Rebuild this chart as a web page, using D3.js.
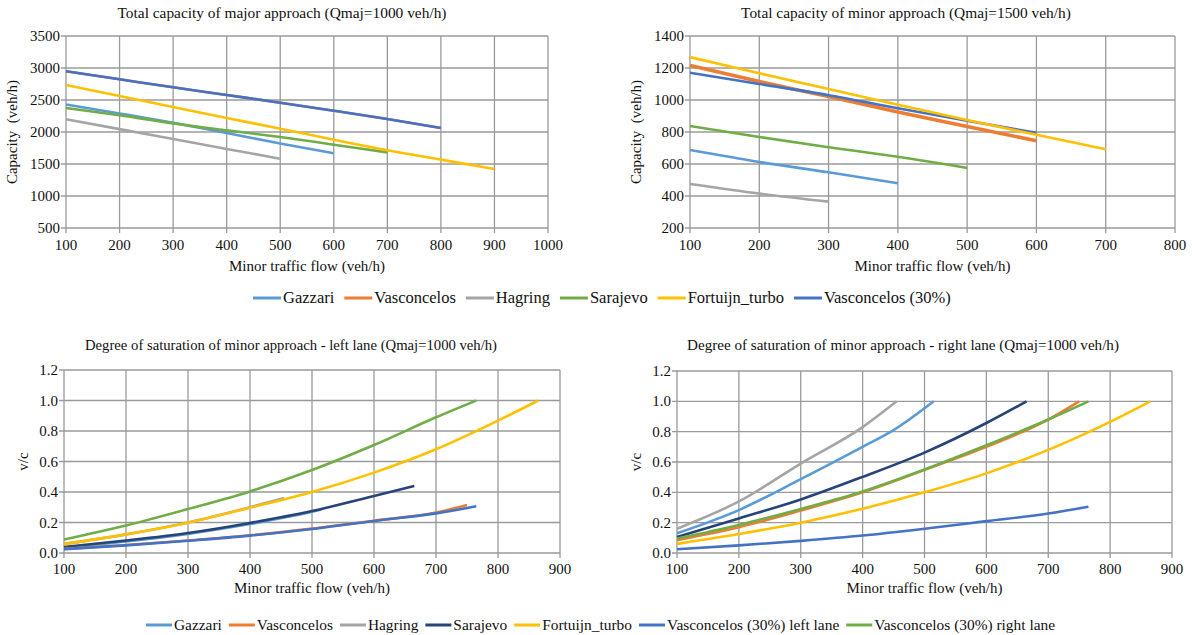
<!DOCTYPE html>
<html>
<head>
<meta charset="utf-8">
<script src="https://cdn.jsdelivr.net/npm/d3@7"></script>
<style>
  body { margin: 0; background: #fff; }
  svg text { font-family: "Liberation Serif", "DejaVu Serif", serif; fill: #111; }
</style>
</head>
<body>
<svg id="chart" width="1192" height="635"></svg>
<script>
// ---- data ----
var xTop = [100, 200, 300, 400, 500, 600, 700, 800, 900];

// Total capacity of major approach (Qmaj=1000 veh/h)
var majGazzari      = [2430, 2290, 2145, 1985, 1820, 1668];
var majVasconcelos  = [2948, 2823, 2698, 2578, 2458, 2333, 2203, 2063];
var majHagring      = [2198, 2045, 1890, 1735, 1583];
var majSarajevo     = [2375, 2262, 2135, 2026, 1922, 1802, 1682];
var majFortuijn     = [2734, 2562, 2390, 2219, 2052, 1880, 1714, 1568, 1422];
var majVasc30       = [2948, 2823, 2698, 2578, 2458, 2333, 2203, 2063];

// Total capacity of minor approach (Qmaj=1500 veh/h)
var minGazzari      = [688, 613, 548, 480];
var minVasconcelos  = [1216, 1115, 1022, 925, 835, 745];
var minHagring      = [475, 415, 365];
var minSarajevo     = [838, 769, 705, 645, 575];
var minFortuijn     = [1268, 1167, 1069, 970, 875, 783, 692];
var minVasc30       = [1170, 1100, 1030, 948, 870, 795];

// Degree of saturation, left lane
var xLGazzari = [100, 200, 300, 400, 500, 515];
var yLGazzari = [0.035, 0.075, 0.125, 0.19, 0.27, 0.285];
var xLVasc    = [100, 200, 300, 400, 500, 600, 700, 750];
var yLVasc    = [0.027, 0.052, 0.082, 0.116, 0.16, 0.212, 0.265, 0.315];
var xLHagring = [100, 200, 300, 400, 455];
var yLHagring = [0.06, 0.122, 0.2, 0.3, 0.36];
var xLSaraj   = [100, 200, 300, 400, 500, 600, 665];
var yLSaraj   = [0.04, 0.082, 0.131, 0.197, 0.275, 0.374, 0.44];
var xLFort    = [100, 200, 300, 400, 500, 600, 700, 800, 865];
var yLFort    = [0.057, 0.122, 0.199, 0.297, 0.40, 0.527, 0.68, 0.868, 1.0];
var xLV30L    = [100, 200, 300, 400, 500, 600, 700, 765];
var yLV30L    = [0.025, 0.05, 0.08, 0.114, 0.157, 0.21, 0.26, 0.306];
var xLV30R    = [100, 200, 300, 400, 500, 600, 700, 765];
var yLV30R    = [0.088, 0.18, 0.288, 0.404, 0.544, 0.708, 0.89, 1.0];

// Degree of saturation, right lane
var xRGazzari = [100, 200, 300, 400, 450, 515];
var yRGazzari = [0.13, 0.283, 0.487, 0.70, 0.81, 1.0];
var xRVasc    = [100, 200, 300, 400, 500, 600, 700, 750];
var yRVasc    = [0.085, 0.17, 0.28, 0.40, 0.548, 0.70, 0.88, 1.0];
var xRHagring = [100, 200, 300, 400, 455];
var yRHagring = [0.16, 0.34, 0.59, 0.83, 1.0];
var xRSaraj   = [100, 200, 300, 400, 500, 600, 665];
var yRSaraj   = [0.105, 0.228, 0.353, 0.502, 0.662, 0.857, 1.0];
var xRFort    = [100, 200, 300, 400, 500, 600, 700, 800, 865];
var yRFort    = [0.06, 0.125, 0.2, 0.292, 0.40, 0.525, 0.68, 0.865, 1.0];
var xRV30L    = [100, 200, 300, 400, 500, 600, 700, 765];
var yRV30L    = [0.025, 0.05, 0.08, 0.115, 0.16, 0.21, 0.26, 0.305];
var xRV30R    = [100, 200, 300, 400, 500, 600, 700, 765];
var yRV30R    = [0.095, 0.185, 0.29, 0.405, 0.55, 0.71, 0.88, 1.0];

var topNames = ["Gazzari", "Vasconcelos", "Hagring", "Sarajevo", "Fortuijn_turbo", "Vasconcelos (30%)"];
var topColours = ["#5b9bd5", "#ed7d31", "#a5a5a5", "#70ad47", "#ffc000", "#4472c4"];
var botNames = ["Gazzari", "Vasconcelos", "Hagring", "Sarajevo", "Fortuijn_turbo", "Vasconcelos (30%) left lane", "Vasconcelos (30%) right lane"];
var botColours = ["#5b9bd5", "#ed7d31", "#a5a5a5", "#264478", "#ffc000", "#4472c4", "#70ad47"];

var FONT = "'Liberation Serif', 'DejaVu Serif', serif";

function zipTop(vals) {
	return vals.map(function(v, i) { return [xTop[i], v]; });
}
function zip(xs, ys) {
	return xs.map(function(x, i) { return [x, ys[i]]; });
}

var svg = d3.select("#chart").attr("font-family", FONT);

function drawPanel(p) {
	var x = d3.scaleLinear().domain(p.xDomain).range([p.left, p.right]);
	var y = d3.scaleLinear().domain(p.yDomain).range([p.bottom, p.top]);
	var g = svg.append("g");

	var xTicks = d3.range(p.xDomain[0], p.xDomain[1] + 1, p.xStep);
	var yTicks = d3.range(0, Math.round((p.yDomain[1] - p.yDomain[0]) / p.yStep) + 1)
		.map(function(i) { return p.yDomain[0] + i * p.yStep; });

	g.append("g").selectAll("line.vg")
		.data(xTicks)
	  .enter().append("line")
		.attr("x1", function(d) { return x(d); })
		.attr("x2", function(d) { return x(d); })
		.attr("y1", p.top).attr("y2", p.bottom + 5)
		.attr("stroke", "#9a9a9a").attr("stroke-width", 1.3);

	g.append("g").selectAll("line.hg")
		.data(yTicks)
	  .enter().append("line")
		.attr("x1", p.left - 5).attr("x2", p.right)
		.attr("y1", function(d) { return y(d); })
		.attr("y2", function(d) { return y(d); })
		.attr("stroke", "#9a9a9a").attr("stroke-width", 1.3);

	g.append("g").selectAll("text.xt")
		.data(xTicks)
	  .enter().append("text")
		.attr("x", function(d) { return x(d); })
		.attr("y", p.bottom + p.xTickDy)
		.attr("text-anchor", "middle")
		.style("font-family", FONT)
		.style("font-size", "15px")
		.text(function(d) { return d; });

	g.append("g").selectAll("text.yt")
		.data(yTicks)
	  .enter().append("text")
		.attr("x", p.left - 6)
		.attr("y", function(d) { return y(d) + 5; })
		.attr("text-anchor", "end")
		.style("font-family", FONT)
		.style("font-size", "15px")
		.text(function(d) { return p.yFormat(d); });

	var line = d3.line()
		.x(function(d) { return x(d[0]); })
		.y(function(d) { return y(d[1]); })
		.curve(d3.curveMonotoneX);

	g.append("g").selectAll("path.series")
		.data(p.series)
	  .enter().append("path")
		.attr("d", function(d) { return line(d.values); })
		.attr("fill", "none")
		.attr("stroke", function(d) { return d.colour; })
		.attr("stroke-width", function(d) { return d.width || 2.6; });

	g.append("text")
		.attr("x", p.titleX).attr("y", p.titleY)
		.attr("text-anchor", "middle")
		.style("font-family", FONT)
		.style("font-size", p.titleSize + "px")
		.text(p.title);

	g.append("text")
		.attr("x", (p.left + p.right) / 2).attr("y", p.bottom + p.xLabelDy)
		.attr("text-anchor", "middle")
		.style("font-family", FONT)
		.style("font-size", "15px")
		.text("Minor traffic flow (veh/h)");

	g.append("text")
		.attr("transform", "translate(" + p.yLabelX + "," + ((p.top + p.bottom) / 2) + ") rotate(-90)")
		.attr("text-anchor", "middle")
		.style("font-family", FONT)
		.style("font-size", "15px")
		.style("white-space", "pre")
		.text(p.yLabel);
}

function drawLegend(names, colours, startX, cy, lineLen, gap, size) {
	var g = svg.append("g");
	var pos = startX;
	names.forEach(function(n, i) {
		g.append("line")
			.attr("x1", pos).attr("x2", pos + lineLen)
			.attr("y1", cy - 5).attr("y2", cy - 5)
			.attr("stroke", colours[i]).attr("stroke-width", 3);
		var t = g.append("text")
			.attr("x", pos + lineLen + 2).attr("y", cy)
			.style("font-family", FONT).style("font-size", size + "px")
			.text(n);
		pos += lineLen + 2 + t.node().getComputedTextLength() + gap;
	});
}

var capFormat = function(d) { return d; };
var vcFormat = d3.format(".1f");

drawPanel({
	left: 66, right: 548, top: 36, bottom: 228,
	xDomain: [100, 1000], xStep: 100, yDomain: [500, 3500], yStep: 500,
	yFormat: capFormat, title: "Total capacity of major approach (Qmaj=1000 veh/h)",
	titleX: 282, titleY: 18, titleSize: 15.4, yLabelX: 17, yLabel: "Capacity  (veh/h)",
	xTickDy: 22, xLabelDy: 43,
	series: [
		{ values: zipTop(majVasconcelos), colour: topColours[1] },
		{ values: zipTop(majGazzari), colour: topColours[0] },
		{ values: zipTop(majHagring), colour: topColours[2] },
		{ values: zipTop(majSarajevo), colour: topColours[3] },
		{ values: zipTop(majFortuijn), colour: topColours[4] },
		{ values: zipTop(majVasc30), colour: topColours[5] }
	]
});

drawPanel({
	left: 690, right: 1175, top: 36, bottom: 228,
	xDomain: [100, 800], xStep: 100, yDomain: [200, 1400], yStep: 200,
	yFormat: capFormat, title: "Total capacity of minor approach (Qmaj=1500 veh/h)",
	titleX: 906, titleY: 18, titleSize: 15.4, yLabelX: 641, yLabel: "Capacity  (veh/h)",
	xTickDy: 22, xLabelDy: 43,
	series: [
		{ values: zipTop(minGazzari), colour: topColours[0] },
		{ values: zipTop(minHagring), colour: topColours[2] },
		{ values: zipTop(minSarajevo), colour: topColours[3] },
		{ values: zipTop(minVasconcelos), colour: topColours[1], width: 3.6 },
		{ values: zipTop(minVasc30), colour: topColours[5] },
		{ values: zipTop(minFortuijn), colour: topColours[4] }
	]
});

drawPanel({
	left: 64, right: 560, top: 370, bottom: 553,
	xDomain: [100, 900], xStep: 100, yDomain: [0, 1.2], yStep: 0.2,
	yFormat: vcFormat, title: "Degree of saturation of minor approach - left lane (Qmaj=1000 veh/h)",
	titleX: 291, titleY: 350, titleSize: 14.7, yLabelX: 28, yLabel: "v/c",
	xTickDy: 21, xLabelDy: 40,
	series: [
		{ values: zip(xLGazzari, yLGazzari), colour: botColours[0] },
		{ values: zip(xLHagring, yLHagring), colour: botColours[2] },
		{ values: zip(xLSaraj, yLSaraj), colour: botColours[3] },
		{ values: zip(xLFort, yLFort), colour: botColours[4] },
		{ values: zip(xLVasc, yLVasc), colour: botColours[1] },
		{ values: zip(xLV30L, yLV30L), colour: botColours[5] },
		{ values: zip(xLV30R, yLV30R), colour: botColours[6] }
	]
});

drawPanel({
	left: 677, right: 1172, top: 371, bottom: 553,
	xDomain: [100, 900], xStep: 100, yDomain: [0, 1.2], yStep: 0.2,
	yFormat: vcFormat, title: "Degree of saturation of minor approach - right lane (Qmaj=1000 veh/h)",
	titleX: 903, titleY: 350, titleSize: 15.1, yLabelX: 641, yLabel: "v/c",
	xTickDy: 21, xLabelDy: 40,
	series: [
		{ values: zip(xRGazzari, yRGazzari), colour: botColours[0] },
		{ values: zip(xRVasc, yRVasc), colour: botColours[1] },
		{ values: zip(xRHagring, yRHagring), colour: botColours[2] },
		{ values: zip(xRSaraj, yRSaraj), colour: botColours[3] },
		{ values: zip(xRFort, yRFort), colour: botColours[4] },
		{ values: zip(xRV30L, yRV30L), colour: botColours[5] },
		{ values: zip(xRV30R, yRV30R), colour: botColours[6] }
	]
});

drawLegend(topNames, topColours, 253, 303, 28, 10, 16.5);
drawLegend(botNames, botColours, 146, 630, 26, 7, 15.4);
</script>
</body>
</html>
